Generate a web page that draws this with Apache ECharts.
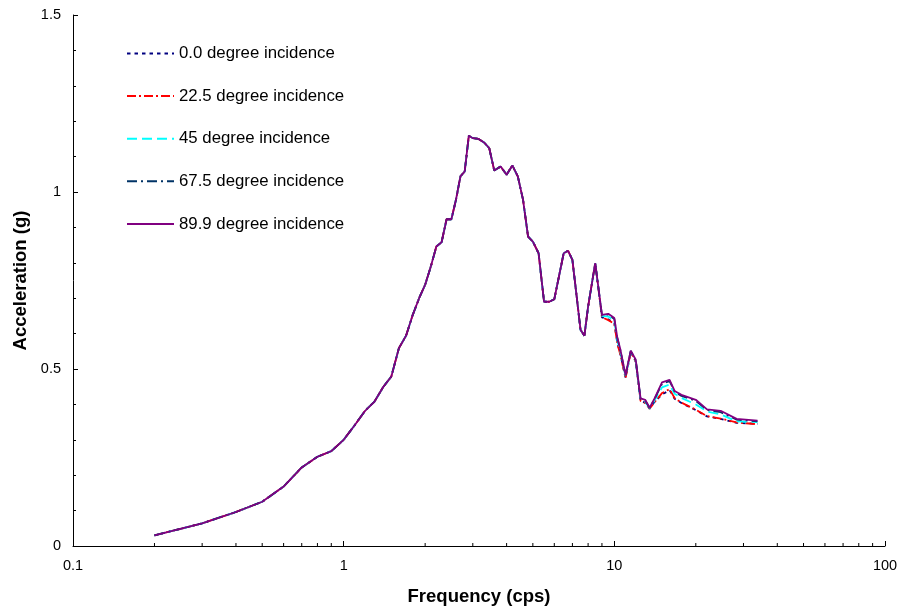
<!DOCTYPE html>
<html>
<head>
<meta charset="utf-8">
<script src="https://cdn.jsdelivr.net/npm/echarts@6/dist/echarts.min.js"></script>
<style>html,body{margin:0;padding:0;background:#fff;}#chart{width:901px;height:612px;}</style>
</head>
<body>
<div id="chart"></div>
<script>
const freq = [0.2,0.3,0.4,0.5,0.6,0.7,0.8,0.9,1.0,1.1,1.2,1.3,1.4,1.5,1.6,1.7,1.8,1.9,2.0,2.1,2.2,2.3,2.4,2.5,2.6,2.7,2.8,2.9,3.0,3.15,3.3,3.45,3.6,3.8,4.0,4.2,4.4,4.6,4.8,5.0,5.25,5.5,5.75,6.0,6.5,6.75,7.0,7.5,7.75,8.0,8.5,9.0,9.5,10.0,10.25,10.5,11.0,11.5,12.0,12.5,13.0,13.5,14.0,15.0,16.0,16.7,17.7,20.0,22.0,24.7,28.3,33.8];

const common = [0.030,0.064,0.096,0.125,0.168,0.222,0.252,0.268,0.300,0.342,0.382,0.408,0.449,0.479,0.559,0.594,0.653,0.700,0.738,0.790,0.846,0.858,0.923,0.923,0.978,1.044,1.058,1.159,1.152,1.150,1.140,1.124,1.061,1.072,1.049,1.075,1.044,0.978,0.874,0.860,0.827,0.690,0.690,0.697,0.827,0.834,0.808,0.611,0.594,0.676,0.799];

const tail000 = [0.646,0.640,0.630,0.575,0.545,0.476,0.548,0.520,0.410,0.405,0.388,0.405,0.428,0.440,0.416,0.404,0.384,0.366,0.359,0.348,0.345];
const tail225 = [0.646,0.638,0.628,0.573,0.543,0.474,0.548,0.521,0.410,0.404,0.388,0.404,0.432,0.443,0.418,0.405,0.385,0.367,0.360,0.349,0.344];
const tail450 = [0.650,0.648,0.636,0.582,0.552,0.480,0.550,0.523,0.413,0.408,0.389,0.408,0.448,0.456,0.430,0.418,0.400,0.380,0.372,0.352,0.350];
const tail675 = [0.652,0.654,0.641,0.588,0.557,0.482,0.551,0.525,0.416,0.411,0.390,0.411,0.458,0.466,0.436,0.424,0.410,0.384,0.378,0.357,0.352];
const tail899 = [0.653,0.656,0.644,0.590,0.559,0.483,0.552,0.526,0.417,0.413,0.391,0.413,0.462,0.469,0.438,0.427,0.413,0.386,0.382,0.359,0.354];

const seriesNames = ['0.0 degree incidence','22.5 degree incidence','45 degree incidence','67.5 degree incidence','89.9 degree incidence'];
const seriesColors = ['#000080','#FF0000','#00FFFF','#003366','#800080'];
const seriesDash = [[3.5,4],[9,3,2,3],[10,5],[10,4,2,4],'solid'];
const tails = [tail000, tail225, tail450, tail675, tail899];

const xTickLabels = ['0.1','1','10','100'];
const yTickLabels = ['0','0.5','1','1.5'];
const xMinorTicks = [0.2,0.3,0.4,0.5,0.6,0.7,0.8,0.9,2,3,4,5,6,7,8,9,20,30,40,50,60,70,80,90];

const FONT = "'Liberation Sans', Arial, sans-serif";

const lineSeries = seriesNames.map((name, i) => {
  const vals = common.concat(tails[i]);
  return {
    name: name,
    type: 'line',
    symbol: 'none',
    showSymbol: false,
    smooth: false,
    z: 2 + i,
    color: seriesColors[i],
    lineStyle: { color: seriesColors[i], width: 1.8, type: seriesDash[i] },
    data: freq.map((f, k) => [f, vals[k]])
  };
});

const minorTickSeries = {
  type: 'custom',
  name: 'minorTicks',
  silent: true,
  clip: false,
  z: 10,
  data: xMinorTicks.map(v => [v, 0]),
  renderItem: function (params, api) {
    const p = api.coord([api.value(0), 0]);
    return {
      type: 'line',
      shape: { x1: p[0], y1: p[1], x2: p[0], y2: p[1] - 3 },
      style: { stroke: '#000', lineWidth: 1 }
    };
  }
};

const chart = echarts.init(document.getElementById('chart'), null, { renderer: 'canvas' });
chart.setOption({
  animation: false,
  backgroundColor: '#fff',
  textStyle: { fontFamily: FONT },
  grid: { left: 73, right: 16, top: 15, bottom: 66, containLabel: false },
  legend: {
    data: seriesNames,
    orient: 'vertical',
    left: 121,
    top: 40,
    itemWidth: 47,
    itemHeight: 14,
    itemGap: 25.6,
    itemStyle: { opacity: 0 },
    textStyle: { fontSize: 16.8, color: '#000', fontFamily: FONT }
  },
  xAxis: {
    type: 'log',
    logBase: 10,
    min: 0.1,
    max: 100,
    name: 'Frequency (cps)',
    nameLocation: 'middle',
    nameGap: 41,
    nameTextStyle: { fontSize: 18.5, fontWeight: 'bold', color: '#000', fontFamily: FONT },
    axisLine: { show: true, lineStyle: { color: '#000', width: 1 } },
    axisTick: { show: true, inside: true, length: 5, lineStyle: { color: '#000' } },
    axisLabel: {
      margin: 12, fontSize: 14.5, color: '#000', fontFamily: FONT,
      formatter: function (v) {
        const lg = Math.round(Math.log10(v)) + 1;
        return xTickLabels[lg] !== undefined ? xTickLabels[lg] : '';
      }
    },
    splitLine: { show: false },
    minorTick: { show: false }
  },
  yAxis: {
    type: 'value',
    min: 0,
    max: 1.5,
    interval: 0.5,
    name: 'Acceleration (g)',
    nameLocation: 'middle',
    nameGap: 42,
    nameTextStyle: { fontSize: 18.5, fontWeight: 'bold', color: '#000', fontFamily: FONT },
    axisLine: { show: true, lineStyle: { color: '#000', width: 1 } },
    axisTick: { show: true, inside: true, length: 5, lineStyle: { color: '#000' } },
    minorTick: { show: true, splitNumber: 5, length: 3, lineStyle: { color: '#000' } },
    axisLabel: {
      margin: 12, fontSize: 14.5, color: '#000', fontFamily: FONT,
      formatter: function (v) {
        const idx = Math.round(v / 0.5);
        return yTickLabels[idx] !== undefined ? yTickLabels[idx] : '';
      }
    },
    splitLine: { show: false }
  },
  series: lineSeries.concat([minorTickSeries])
});
</script>
</body>
</html>
